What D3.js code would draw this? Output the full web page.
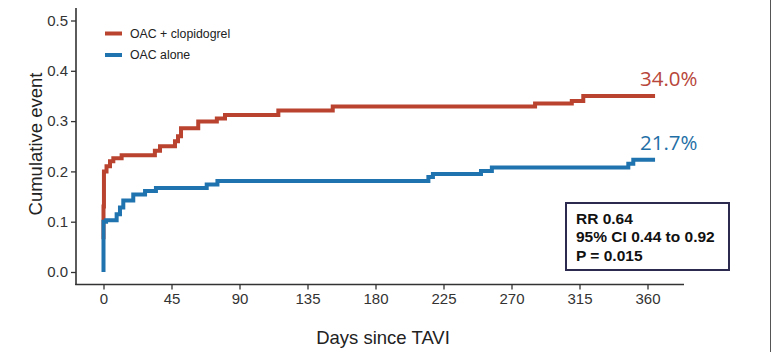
<!DOCTYPE html>
<html><head><meta charset="utf-8">
<script src="https://cdn.jsdelivr.net/npm/d3@7"></script>
<style>html,body{margin:0;padding:0;background:#fff;}svg{display:block;}</style>
</head><body><svg id="c" width="772" height="352"></svg>
<script>
const seriesNames = ["OAC + clopidogrel", "OAC alone"];
const seriesColors = ["#B9432F", "#1F73AE"];
const redDays   = [0, 0, 0.3, 2, 4.3, 6.5, 12, 34, 37.4, 47.3, 49.3, 51.3, 62.7, 75, 80.4, 115.7, 151.7, 285.6, 309.9, 317.5, 365];
const redValues = [0.065, 0.13, 0.2, 0.21, 0.22, 0.226, 0.232, 0.241, 0.25, 0.26, 0.27, 0.286, 0.299, 0.305, 0.312, 0.321, 0.329, 0.335, 0.340, 0.350, 0.350];
const blueDays   = [0, 0, 0, 1.7, 8.7, 10.9, 13.1, 19.7, 27.5, 34.7, 68.3, 75.4, 215, 218, 249.8, 257, 347.3, 350.6, 365];
const blueValues = [0, 0.064, 0.10, 0.103, 0.115, 0.128, 0.142, 0.154, 0.161, 0.167, 0.174, 0.181, 0.189, 0.195, 0.201, 0.208, 0.215, 0.223, 0.223];
const xTicks = [0, 45, 90, 135, 180, 225, 270, 315, 360];
const yTicks = [0, 0.1, 0.2, 0.3, 0.4, 0.5];
const endLabels = ["34.0%", "21.7%"];
const statsLines = ["RR 0.64", "95% CI 0.44 to 0.92", "P = 0.015"];

const svg = d3.select("#c");
const x = d3.scaleLinear().domain([0, 360]).range([103.5, 647.5]);
const y = d3.scaleLinear().domain([0, 0.5]).range([272, 20.5]);
const font = "'Liberation Sans', Arial, sans-serif";
const axisCol = "#333";

// axes lines
svg.append("line").attr("x1", 76).attr("x2", 76).attr("y1", 8).attr("y2", 285)
  .attr("stroke", axisCol).attr("stroke-width", 1.6);
svg.append("line").attr("x1", 75.2).attr("x2", 684).attr("y1", 284.5).attr("y2", 284.5)
  .attr("stroke", axisCol).attr("stroke-width", 1.6);

const ya = svg.append("g").attr("transform", "translate(76,0)")
  .call(d3.axisLeft(y).tickValues(yTicks).tickFormat(d3.format(".1f")).tickSize(5).tickPadding(3));
ya.select(".domain").remove();
ya.selectAll("line").attr("stroke", axisCol).attr("stroke-width", 1.3);
ya.selectAll("text").attr("font-family", font).attr("font-size", 15).attr("fill", "#333");

const xa = svg.append("g").attr("transform", "translate(0,284.5)")
  .call(d3.axisBottom(x).tickValues(xTicks).tickSize(5).tickPadding(4));
xa.select(".domain").remove();
xa.selectAll("line").attr("stroke", axisCol).attr("stroke-width", 1.3);
xa.selectAll("text").attr("font-family", font).attr("font-size", 15).attr("fill", "#333");

// axis titles
svg.append("text").attr("transform", "translate(42,144) rotate(-90)")
  .attr("text-anchor", "middle").attr("font-family", font).attr("font-size", 18.5).attr("fill", "#222")
  .text("Cumulative event");
svg.append("text").attr("x", 383).attr("y", 344)
  .attr("text-anchor", "middle").attr("font-family", font).attr("font-size", 18.5).attr("fill", "#222")
  .text("Days since TAVI");

// lines
const line = d3.line().x(d => x(d[0])).y(d => y(d[1])).curve(d3.curveStepAfter);
const series = [d3.zip(redDays, redValues), d3.zip(blueDays, blueValues)];
series.forEach((s, i) => {
  svg.append("path").attr("d", line(s)).attr("fill", "none")
    .attr("stroke", seriesColors[i]).attr("stroke-width", 4).attr("stroke-linejoin", "miter");
});

// legend
seriesNames.forEach((n, i) => {
  const ly = 33.5 + i * 21.5;
  svg.append("line").attr("x1", 105).attr("x2", 122).attr("y1", ly).attr("y2", ly)
    .attr("stroke", seriesColors[i]).attr("stroke-width", 4);
  svg.append("text").attr("x", 130).attr("y", ly + 4.3).attr("font-family", font)
    .attr("font-size", 12.3).attr("fill", "#222").text(n);
});

// end labels
const endVals = [redValues[redValues.length - 1], blueValues[blueValues.length - 1]];
const labelColors = ["#B8463A", "#1F6FA6"];
endLabels.forEach((t, i) => {
  svg.append("text").attr("x", 640).attr("y", y(endVals[i]) - 10)
    .attr("font-family", "'Open Sans', 'Noto Sans', sans-serif").attr("font-size", 20.5)
    .attr("fill", labelColors[i]).text(t);
});

// stats box
svg.append("rect").attr("x", 566).attr("y", 203).attr("width", 163).attr("height", 67)
  .attr("fill", "#fff").attr("stroke", "#2C2A4E").attr("stroke-width", 2);
statsLines.forEach((t, i) => {
  svg.append("text").attr("x", 576).attr("y", 223.5 + i * 18.7).attr("font-family", font)
    .attr("font-size", 15.5).attr("font-weight", "bold").attr("fill", "#111").text(t);
});

// right edge border
svg.append("line").attr("x1", 770.5).attr("x2", 770.5).attr("y1", 0).attr("y2", 352)
  .attr("stroke", "#555").attr("stroke-width", 1);
</script></body></html>
